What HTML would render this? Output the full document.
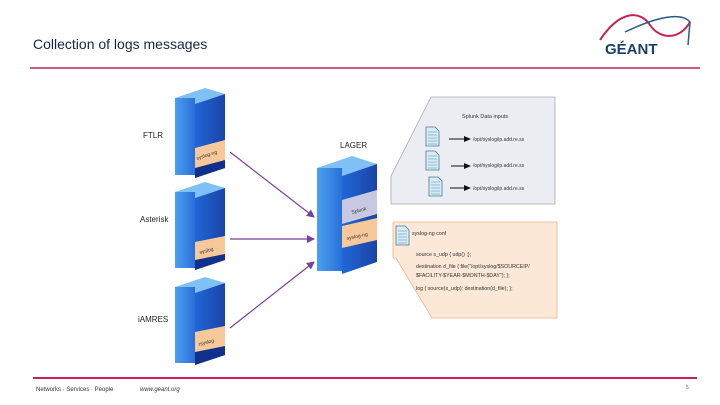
<!DOCTYPE html>
<html><head><meta charset="utf-8"><style>
body{margin:0;width:720px;height:405px;background:#fff;overflow:hidden}
svg{display:block}
</style></head><body>
<svg width="720" height="405" viewBox="0 0 720 405" font-family="Liberation Sans, sans-serif">
<defs>
<linearGradient id="fr" x1="0" x2="1"><stop offset="0" stop-color="#4aa0f0"/><stop offset="1" stop-color="#2a6fd8"/></linearGradient>
<linearGradient id="sd" x1="0" x2="1"><stop offset="0" stop-color="#2166d6"/><stop offset="1" stop-color="#1a44a8"/></linearGradient>
<marker id="ah" markerWidth="8" markerHeight="8" refX="7" refY="4" orient="auto" markerUnits="userSpaceOnUse"><path d="M0,0 L8,4 L0,8 z" fill="#7b3f9e"/></marker>
<marker id="bh" markerWidth="7" markerHeight="6" refX="6" refY="3" orient="auto" markerUnits="userSpaceOnUse"><path d="M0,0 L7,3 L0,6 z" fill="#111"/></marker>
<g id="doc"><path d="M0,0 H9 L13,4 V19 H0 z" fill="#d8ecf5" stroke="#4a7a9a" stroke-width="0.8"/><g stroke="#6a9ab8" stroke-width="0.6"><line x1="2" y1="5" x2="11" y2="5"/><line x1="2" y1="8" x2="11" y2="8"/><line x1="2" y1="11" x2="11" y2="11"/><line x1="2" y1="14" x2="11" y2="14"/><line x1="2" y1="17" x2="11" y2="17"/></g></g>
</defs>
<text x="33" y="49" font-size="14" fill="#16254f">Collection of logs messages</text>
<line x1="30" y1="68" x2="700" y2="68" stroke="#c8234f" stroke-width="1.5"/>
<path d="M600,40 C620,10 640,10 650,25 C660,40 680,40 690,22" fill="none" stroke="#c8234f" stroke-width="2"/>
<path d="M625,32 C650,20 680,10 690,22 L688,45" fill="none" stroke="#2a5a8a" stroke-width="1.5"/>
<text x="605" y="54" font-size="15" font-weight="bold" fill="#1d3f6e">GÉANT</text>
<g>
<path d="M175,98 L205,88 L225,94 L195,104 z" fill="#7fc0f5"/>
<rect x="175" y="98" width="20" height="77" fill="url(#fr)"/>
<path d="M195,104 L225,94 L225,168 L195,178 z" fill="url(#sd)"/>
<path d="M195,168 L225,160 L225,168 L195,178 z" fill="#12308a"/>
<path d="M195,148 L225,140 L225,160 L195,168 z" fill="#f7c89a"/>
<text x="197" y="160" font-size="5" fill="#333" transform="rotate(-18 197 160)">syslog-ng</text>
</g>
<g>
<path d="M175,192 L205,182 L225,188 L195,198 z" fill="#7fc0f5"/>
<rect x="175" y="192" width="20" height="76" fill="url(#fr)"/>
<path d="M195,198 L225,188 L225,260 L195,270 z" fill="url(#sd)"/>
<path d="M195,260 L225,254 L225,260 L195,270 z" fill="#12308a"/>
<path d="M195,242 L225,236 L225,254 L195,260 z" fill="#f7c89a"/>
<text x="200" y="254" font-size="5" fill="#333" transform="rotate(-15 200 254)">syslog</text>
</g>
<g>
<path d="M175,287 L205,277 L225,283 L195,293 z" fill="#7fc0f5"/>
<rect x="175" y="287" width="20" height="76" fill="url(#fr)"/>
<path d="M195,293 L225,283 L225,355 L195,365 z" fill="url(#sd)"/>
<path d="M195,352 L225,346 L225,355 L195,365 z" fill="#12308a"/>
<path d="M195,332 L225,326 L225,346 L195,352 z" fill="#f7c89a"/>
<text x="199" y="346" font-size="5" fill="#333" transform="rotate(-15 199 346)">rsyslog</text>
</g>
<g>
<path d="M317,168 L352,156 L377,164 L342,176 z" fill="#7fc0f5"/>
<rect x="317" y="168" width="25" height="103" fill="url(#fr)"/>
<path d="M342,176 L377,164 L377,262 L342,274 z" fill="url(#sd)"/>
<path d="M342,200 L377,190 L377,214 L342,224 z" fill="#c8c8e2"/>
<path d="M342,226 L377,218 L377,240 L342,248 z" fill="#f7c89a"/>
<text x="352" y="214" font-size="5" fill="#333" transform="rotate(-15 352 214)">Splunk</text>
<text x="347" y="240" font-size="5" fill="#333" transform="rotate(-12 347 240)">syslog-ng</text>
</g>
<g font-size="8" fill="#222">
<text x="143" y="138">FTLR</text>
<text x="140" y="222">Asterisk</text>
<text x="138" y="322">iAMRES</text>
<text x="340" y="148">LAGER</text>
</g>
<g stroke="#7b3f9e" stroke-width="1.2" marker-end="url(#ah)">
<line x1="230" y1="152" x2="314" y2="217"/>
<line x1="230" y1="239" x2="314" y2="239"/>
<line x1="230" y1="328" x2="314" y2="262"/>
</g>
<path d="M431,97 L555,97 L555,204 L391,204 L391,176 z" fill="#ececf3" stroke="#a9a9b5" stroke-width="0.8"/>
<text x="462" y="118" font-size="5.5" fill="#333">Splunk Data inputs</text>
<use href="#doc" x="426" y="127"/>
<use href="#doc" x="426" y="151"/>
<use href="#doc" x="429" y="177"/>
<g stroke="#111" stroke-width="1" marker-end="url(#bh)">
<line x1="449" y1="139" x2="470" y2="139"/>
<line x1="451" y1="166" x2="470" y2="166"/>
<line x1="450" y1="188" x2="470" y2="188"/>
</g>
<g font-size="5" fill="#333">
<text x="473" y="141">/opt/syslog/ip.add.re.ss</text>
<text x="473" y="167">/opt/syslog/ip.add.re.ss</text>
<text x="473" y="190">/opt/syslog/ip.add.re.ss</text>
</g>
<path d="M393,222 L557,222 L557,318 L432,318 L396,258 L393,258 z" fill="#fbe8d6" stroke="#e8b48a" stroke-width="0.8"/>
<use href="#doc" x="396" y="226"/>
<g font-size="5.3" fill="#333">
<text x="412" y="235">syslog-ng conf</text>
<text x="416" y="256">source s_udp { udp() ;};</text>
<text x="416" y="268">destination d_file { file("/opt/syslog/$SOURCEIP/</text>
<text x="416" y="277">$FACILITY-$YEAR-$MONTH-$DAY"); };</text>
<text x="416" y="290">log { source(s_udp); destination(d_file); };</text>
</g>
<line x1="33" y1="378" x2="697" y2="378" stroke="#c8234f" stroke-width="2"/>
<text x="36" y="391" font-size="6" fill="#333">Networks · Services · People</text>
<text x="140" y="391" font-size="6" fill="#333" font-style="italic">www.geant.org</text>
<text x="686" y="389" font-size="5" fill="#666">5</text>
</svg>
</body></html>
